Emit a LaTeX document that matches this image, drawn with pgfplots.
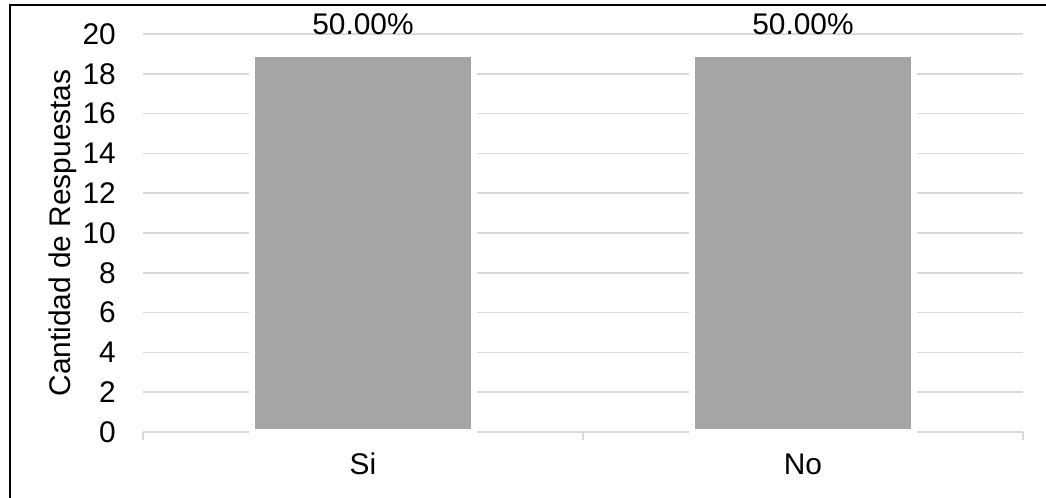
\documentclass[border=0pt]{standalone}
\usepackage{pgfplots}
\pgfplotsset{compat=1.18}
\usepackage{fontspec}
\setmainfont{Liberation Sans}
\definecolor{gridgray}{HTML}{D9D9D9}
\definecolor{bargray}{HTML}{A5A5A5}
\newcommand{\chartfont}{\fontsize{22.4}{26}\selectfont}
\begin{document}
\begin{tikzpicture}
\path[use as bounding box] (-107.25pt,-48.75pt) rectangle (677.25pt,324pt);
\begin{axis}[
  at={(0,0)}, anchor=south west,
  scale only axis,
  width=660pt, height=298.5pt,
  xmin=-0.5, xmax=1.5,
  ymin=0, ymax=20,
  ytick={0,2,...,20},
  xtick={0,1},
  xticklabels={Si,No},
  /pgf/number format/assume math mode=true,
  major tick length=0pt,
  axis x line*=bottom,
  axis y line*=left,
  x axis line style={gridgray, line width=1.1pt},
  y axis line style={draw=none},
  ymajorgrids,
  grid style={gridgray, line width=1.1pt},
  tick style={draw=none},
  extra x ticks={-0.5,0.5,1.5},
  extra x tick labels={},
  extra x tick style={grid=none, tick align=outside, major tick length=6pt,
    tick style={draw=gridgray, line width=1.1pt}},
  ticklabel style={font=\chartfont, text=black},
  yticklabel style={anchor=east, inner sep=0pt, xshift=-20.25pt},
  xticklabel style={anchor=base, inner sep=0pt, yshift=-31.5pt},
  ylabel={Cantidad de Respuestas},
  ylabel style={at={([xshift=-54pt]axis description cs:0,0.5)}, anchor=base,
    font=\chartfont},
]
\addplot[ybar, bar width=166.5pt, fill=bargray, draw=white, line width=4.5pt,
  nodes near coords, point meta=explicit symbolic,
  every node near coord/.append style={anchor=base, yshift=14.25pt,
    inner sep=0pt, font=\chartfont, text=black}]
  coordinates {(0,19) [50.00\%] (1,19) [50.00\%]};
\end{axis}
\draw[line width=1.5pt] (-100pt,-60pt) rectangle (700pt,320.25pt);
\end{tikzpicture}
\end{document}
